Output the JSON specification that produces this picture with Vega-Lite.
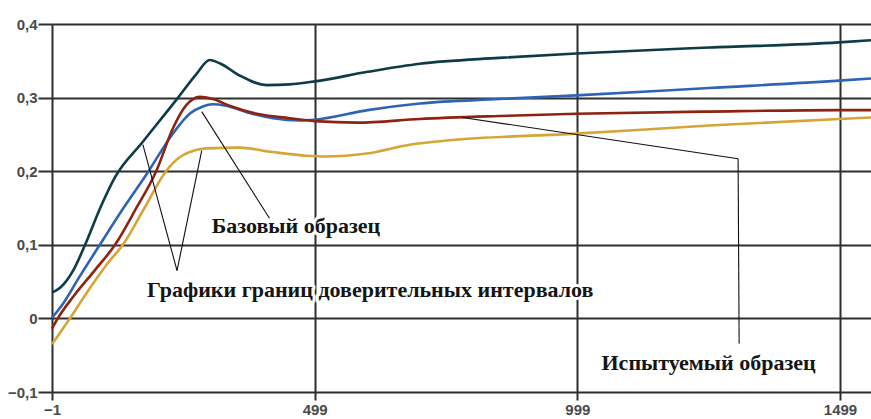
{
  "$schema": "https://vega.github.io/schema/vega-lite/v6.json",
  "width": 819,
  "height": 368,
  "autosize": "none",
  "padding": {"left": 52, "top": 24, "right": 0, "bottom": 27},
  "background": "white",
  "config": {
    "view": {"stroke": null}
  },
  "datasets": {
    "series": [
      {"s": "upper", "x": -1, "v": 0.035},
      {"s": "upper", "x": 15, "v": 0.042},
      {"s": "upper", "x": 40, "v": 0.066},
      {"s": "upper", "x": 62, "v": 0.1},
      {"s": "upper", "x": 92, "v": 0.152},
      {"s": "upper", "x": 119, "v": 0.192},
      {"s": "upper", "x": 172, "v": 0.24},
      {"s": "upper", "x": 239, "v": 0.3},
      {"s": "upper", "x": 275, "v": 0.333},
      {"s": "upper", "x": 299, "v": 0.351},
      {"s": "upper", "x": 320, "v": 0.346},
      {"s": "upper", "x": 356, "v": 0.33},
      {"s": "upper", "x": 408, "v": 0.317},
      {"s": "upper", "x": 451, "v": 0.318},
      {"s": "upper", "x": 499, "v": 0.322},
      {"s": "upper", "x": 600, "v": 0.335},
      {"s": "upper", "x": 699, "v": 0.346},
      {"s": "upper", "x": 850, "v": 0.354},
      {"s": "upper", "x": 997, "v": 0.36},
      {"s": "upper", "x": 1250, "v": 0.368},
      {"s": "upper", "x": 1497, "v": 0.375},
      {"s": "upper", "x": 1558, "v": 0.378},

      {"s": "base", "x": -1, "v": 0.001},
      {"s": "base", "x": 20, "v": 0.02},
      {"s": "base", "x": 50, "v": 0.055},
      {"s": "base", "x": 90, "v": 0.1},
      {"s": "base", "x": 135, "v": 0.15},
      {"s": "base", "x": 180, "v": 0.197},
      {"s": "base", "x": 229, "v": 0.251},
      {"s": "base", "x": 261, "v": 0.278},
      {"s": "base", "x": 286, "v": 0.288},
      {"s": "base", "x": 305, "v": 0.291},
      {"s": "base", "x": 330, "v": 0.289},
      {"s": "base", "x": 375, "v": 0.279},
      {"s": "base", "x": 420, "v": 0.272},
      {"s": "base", "x": 470, "v": 0.269},
      {"s": "base", "x": 499, "v": 0.27},
      {"s": "base", "x": 600, "v": 0.283},
      {"s": "base", "x": 699, "v": 0.292},
      {"s": "base", "x": 850, "v": 0.298},
      {"s": "base", "x": 997, "v": 0.303},
      {"s": "base", "x": 1250, "v": 0.313},
      {"s": "base", "x": 1497, "v": 0.323},
      {"s": "base", "x": 1558, "v": 0.326},

      {"s": "test", "x": -1, "v": -0.014},
      {"s": "test", "x": 10, "v": 0.0},
      {"s": "test", "x": 40, "v": 0.03},
      {"s": "test", "x": 80, "v": 0.065},
      {"s": "test", "x": 119, "v": 0.1},
      {"s": "test", "x": 158, "v": 0.148},
      {"s": "test", "x": 198, "v": 0.201},
      {"s": "test", "x": 229, "v": 0.258},
      {"s": "test", "x": 255, "v": 0.29},
      {"s": "test", "x": 280, "v": 0.301},
      {"s": "test", "x": 305, "v": 0.298},
      {"s": "test", "x": 337, "v": 0.289},
      {"s": "test", "x": 389, "v": 0.278},
      {"s": "test", "x": 451, "v": 0.272},
      {"s": "test", "x": 499, "v": 0.268},
      {"s": "test", "x": 580, "v": 0.266},
      {"s": "test", "x": 699, "v": 0.271},
      {"s": "test", "x": 850, "v": 0.275},
      {"s": "test", "x": 997, "v": 0.278},
      {"s": "test", "x": 1250, "v": 0.281},
      {"s": "test", "x": 1497, "v": 0.283},
      {"s": "test", "x": 1558, "v": 0.283},

      {"s": "lower", "x": -1, "v": -0.035},
      {"s": "lower", "x": 33, "v": 0.0},
      {"s": "lower", "x": 70, "v": 0.04},
      {"s": "lower", "x": 105, "v": 0.075},
      {"s": "lower", "x": 134, "v": 0.1},
      {"s": "lower", "x": 175, "v": 0.15},
      {"s": "lower", "x": 217, "v": 0.201},
      {"s": "lower", "x": 242, "v": 0.219},
      {"s": "lower", "x": 261, "v": 0.226},
      {"s": "lower", "x": 293, "v": 0.231},
      {"s": "lower", "x": 356, "v": 0.232},
      {"s": "lower", "x": 419, "v": 0.226},
      {"s": "lower", "x": 484, "v": 0.221},
      {"s": "lower", "x": 520, "v": 0.22},
      {"s": "lower", "x": 598, "v": 0.224},
      {"s": "lower", "x": 680, "v": 0.236},
      {"s": "lower", "x": 756, "v": 0.242},
      {"s": "lower", "x": 997, "v": 0.251},
      {"s": "lower", "x": 1250, "v": 0.262},
      {"s": "lower", "x": 1497, "v": 0.271},
      {"s": "lower", "x": 1558, "v": 0.273}
    ],
    "pointers": [
      {"x": 172, "y": 0.236, "x2": 237, "y2": 0.065},
      {"x": 284, "y": 0.228, "x2": 237, "y2": 0.065},
      {"x": 284, "y": 0.281, "x2": 413, "y2": 0.136},
      {"x": 780, "y": 0.273, "x2": 1305, "y2": 0.217},
      {"x": 1305, "y": 0.217, "x2": 1307, "y2": -0.034}
    ],
    "labels": [
      {"x": 303, "y": 0.126, "t": "Базовый образец"},
      {"x": 180, "y": 0.038, "t": "Графики границ доверительных интервалов"},
      {"x": 1045, "y": -0.061, "t": "Испытуемый образец"}
    ]
  },
  "layer": [
    {
      "data": {"name": "series"},
      "mark": {"type": "line", "interpolate": "monotone", "strokeWidth": 2.6},
      "encoding": {
        "x": {
          "field": "x", "type": "quantitative",
          "scale": {"domain": [-1, 1558], "nice": false, "zero": false},
          "axis": {
            "values": [-1, 499, 999, 1499], "format": "d", "title": null,
            "domain": false, "tickSize": 8, "labelPadding": 2, "labelFlush": false,
            "labelFont": "Liberation Sans", "labelFontSize": 15, "labelFontWeight": "bold", "labelColor": "#4a4a4a",
            "gridColor": "#2e2e2e", "gridWidth": 2, "gridOpacity": 1,
            "tickColor": "#2e2e2e", "tickWidth": 2
          }
        },
        "y": {
          "field": "v", "type": "quantitative",
          "scale": {"domain": [-0.1, 0.4], "nice": false, "zero": false},
          "axis": {
            "values": [-0.1, 0, 0.1, 0.2, 0.3, 0.4], "title": null,
            "domain": false, "tickSize": 14, "labelPadding": 1,
            "labelFont": "Liberation Sans", "labelFontSize": 15, "labelFontWeight": "bold", "labelColor": "#4a4a4a",
            "gridColor": "#2e2e2e", "gridWidth": 2, "gridOpacity": 1,
            "tickColor": "#2e2e2e", "tickWidth": 2,
            "labelExpr": "datum.value == 0 ? '0' : replace(format(datum.value, '.1f'), '.', ',')"
          }
        },
        "color": {
          "field": "s", "type": "nominal", "legend": null,
          "scale": {
            "domain": ["upper", "base", "test", "lower"],
            "range": ["#0f3a48", "#2f64b4", "#8e2312", "#d6a535"]
          }
        },
        "order": {"field": "x", "type": "quantitative"}
      }
    },
    {
      "data": {"name": "pointers"},
      "mark": {"type": "rule", "color": "#111111", "strokeWidth": 1.1},
      "encoding": {
        "x": {"field": "x", "type": "quantitative"},
        "y": {"field": "y", "type": "quantitative"},
        "x2": {"field": "x2"},
        "y2": {"field": "y2"}
      }
    },
    {
      "data": {"name": "labels"},
      "mark": {"type": "text", "align": "left", "baseline": "middle", "font": "Liberation Serif", "fontWeight": "bold", "fontSize": 22, "stroke": "white", "strokeWidth": 6, "strokeJoin": "round", "fill": "white"},
      "encoding": {
        "x": {"field": "x", "type": "quantitative"},
        "y": {"field": "y", "type": "quantitative"},
        "text": {"field": "t"}
      }
    },
    {
      "data": {"name": "labels"},
      "mark": {"type": "text", "align": "left", "baseline": "middle", "font": "Liberation Serif", "fontWeight": "bold", "fontSize": 22, "color": "#151515"},
      "encoding": {
        "x": {"field": "x", "type": "quantitative"},
        "y": {"field": "y", "type": "quantitative"},
        "text": {"field": "t"}
      }
    }
  ]
}
